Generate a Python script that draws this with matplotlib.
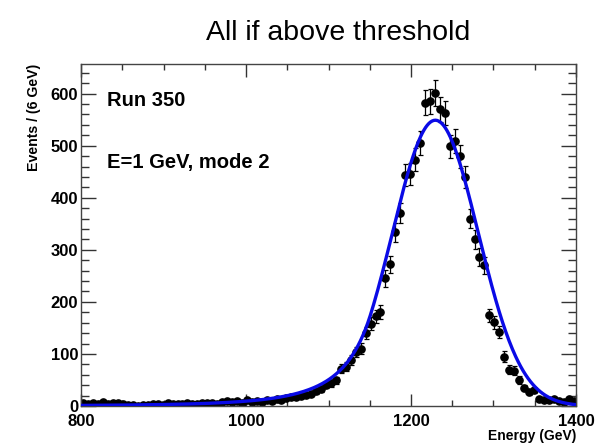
import numpy as np
import matplotlib
matplotlib.use("Agg")
from matplotlib import pyplot as plt
from matplotlib.ticker import MultipleLocator

# energy histogram, 6 GeV bins between 800 and 1400 GeV
bin_lo = 800
bin_width = 6
counts = [5, 3, 6, 4, 7, 4, 5, 5, 3, 2,
          1, 0, 2, 1, 3, 4, 2, 6, 3, 4,
          3, 5, 4, 4, 6, 5, 6, 4, 7, 9,
          8, 10, 6, 11, 8, 9, 7, 11, 9, 13,
          12, 16, 17, 18, 20, 22, 24, 29, 33, 40,
          44, 49, 72, 75, 88, 104, 110, 140, 158, 172,
          180, 245, 272, 334, 370, 443, 446, 473, 505, 583,
          585, 601, 570, 563, 499, 509, 480, 440, 360, 320,
          286, 270, 174, 161, 142, 95, 70, 68, 50, 35,
          27, 30, 14, 12, 12, 13, 10, 8, 13, 9]

# Crystal Ball fit result
fit_norm = 549.0
fit_mean = 1229.5
fit_sigma = 52.0
fit_alpha = 1.5
fit_n = 4.0

run_label = "Run 350"
beam_label = "E=1 GeV, mode 2"


def crystal_ball(x, norm, mean, sigma, alpha, n):
    t = (x - mean) / sigma
    out = np.exp(-0.5 * t ** 2)
    tail = t < -alpha
    a = (n / alpha) ** n * np.exp(-0.5 * alpha ** 2)
    b = n / alpha - alpha
    out[tail] = a / (b - t[tail]) ** n
    return norm * out


plt.rcParams['font.family'] = ['Liberation Sans', 'DejaVu Sans']
plt.rcParams['font.weight'] = 'bold'
plt.rcParams['axes.labelweight'] = 'bold'

counts = np.array(counts, dtype=float)
centers = bin_lo + bin_width * (np.arange(len(counts)) + 0.5)
errors = np.sqrt(counts)
x_hi = bin_lo + bin_width * len(counts)

fig = plt.figure(figsize=(6.12, 4.45), dpi=100)
ax = fig.add_axes([81 / 612, 1 - 406 / 445, 495 / 612, 342 / 445])

ax.errorbar(centers, counts, yerr=errors, fmt='o', color='black', ms=5.2,
            elinewidth=0.9, capsize=1.8, capthick=0.9, zorder=2)

xs = np.linspace(bin_lo, x_hi, 600)
ax.plot(xs, crystal_ball(xs, fit_norm, fit_mean, fit_sigma, fit_alpha, fit_n),
        color='#0a0ae6', lw=2.4, zorder=3)

ax.set_xlim(bin_lo, x_hi)
ax.set_ylim(0, 657)

ax.xaxis.set_major_locator(MultipleLocator(200))
ax.xaxis.set_minor_locator(MultipleLocator(50))
ax.yaxis.set_major_locator(MultipleLocator(100))
ax.yaxis.set_minor_locator(MultipleLocator(20))

for side in ax.spines.values():
    side.set_color('#444444')
    side.set_linewidth(1.0)

ax.tick_params(axis='both', which='both', direction='in', top=True, right=True,
               colors='#333333', labelcolor='black', labelsize=12)
ax.tick_params(axis='x', which='major', length=9, width=1.0, pad=5.5)
ax.tick_params(axis='x', which='minor', length=4.5, width=1.0)
ax.tick_params(axis='y', which='major', length=10.5, width=1.0, pad=2)
ax.tick_params(axis='y', which='minor', length=5.5, width=1.0)

ax.set_xlabel("Energy (GeV)", fontsize=10, loc='right')
ax.xaxis.set_label_coords(1.0, -0.066)
ax.set_ylabel("Events / (6 GeV)", fontsize=10.2, loc='top')
ax.yaxis.set_label_coords(-0.08, 1.0)

ax.text(0.053, 0.892, run_label, transform=ax.transAxes, fontsize=14.5,
        va='center', ha='left')
ax.text(0.053, 0.713, beam_label, transform=ax.transAxes, fontsize=14.5,
        va='center', ha='left')

fig.text(338 / 612, 1 - 33 / 445, "All if above threshold", fontsize=20.5,
         fontweight='normal', ha='center', va='center')

fig.savefig("out.png", dpi=100)
